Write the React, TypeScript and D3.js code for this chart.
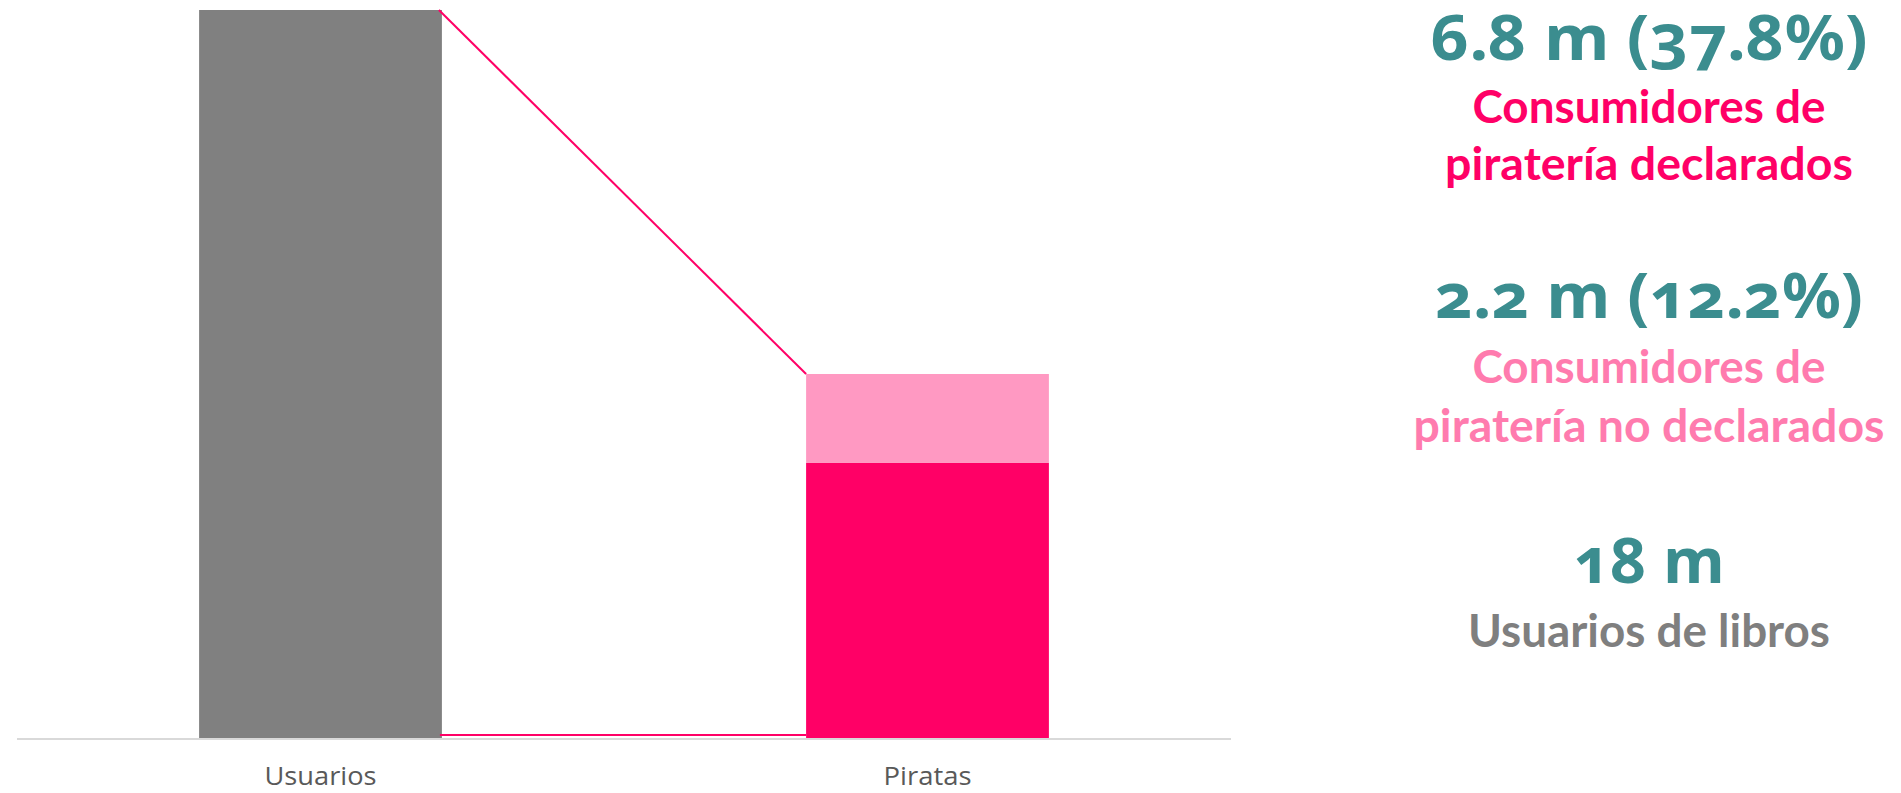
import React from "react";
import * as d3 from "d3";

const categories = ["Usuarios", "Piratas"];
const usuariosValues = [18, 0];
const declaradosValues = [0, 6.8];
const noDeclaradosValues = [0, 2.2];
const seriesKeys = ["usuarios", "declarados", "noDeclarados"];
const seriesColors = ["#808080", "#FF0066", "#FF99C2"];

const annotationValues = ["6.8 m (37.8%)", "2.2 m (12.2%)", "18 m"];
const annotationLabels = [
  ["Consumidores de", "piratería declarados"],
  ["Consumidores de", "piratería no declarados"],
  ["Usuarios de libros"],
];
const annotationLabelColors = ["#FF0066", "#FF7BAE", "#7F7F7F"];

const W = 1901;
const H = 793;

export default function App() {
  const rows = categories.map((c, i) => ({
    category: c,
    usuarios: usuariosValues[i],
    declarados: declaradosValues[i],
    noDeclarados: noDeclaradosValues[i],
  }));
  const stacked = d3.stack<any>().keys(seriesKeys)(rows);

  const x = d3
    .scaleBand<string>()
    .domain(categories)
    .range([17, 1231])
    .paddingInner(0.6)
    .paddingOuter(0.3);
  const y = d3.scaleLinear().domain([0, 18]).range([738, 10]);
  const bw = x.bandwidth();

  const totalUsers = usuariosValues[0];
  const totalPirates = declaradosValues[1] + noDeclaradosValues[1];
  const x1 = (x(categories[0]) as number) + bw;
  const x2 = x(categories[1]) as number;

  const teal = "#3B8D8F";
  const cx = 1649;
  const blocks = [
    { vy: 60, vw: 437, ly: [123, 180], lw: [353, 408] },
    { vy: 318, vw: 428, ly: [383, 442], lw: [353, 471] },
    { vy: 583, vw: 151, ly: [647], lw: [362] },
  ];
  const catLabelWidths = [112, 88];

  return (
    <svg
      width={W}
      height={H}
      style={{ position: "absolute", left: 0, top: 0, background: "#fff" }}
    >
      <line x1={17} x2={1231} y1={y(0) + 1} y2={y(0) + 1} stroke="#D9D9D9" strokeWidth={2} />
      {stacked.map((s, si) => (
        <g key={s.key} fill={seriesColors[si]}>
          {s.map((d, i) =>
            d[1] - d[0] > 0 ? (
              <rect
                key={i}
                x={x(categories[i])}
                width={bw}
                y={y(d[1])}
                height={y(d[0]) - y(d[1])}
              />
            ) : null
          )}
        </g>
      ))}
      <line x1={x1 - 3} y1={y(totalUsers)} x2={x2} y2={y(totalPirates)} stroke="#FF0066" strokeWidth={2} />
      <line x1={x1 - 2} y1={y(0) - 3} x2={x2} y2={y(0) - 3} stroke="#FF0066" strokeWidth={2} />
      {categories.map((c, i) => (
        <text
          key={c}
          x={(x(c) as number) + bw / 2}
          y={785}
          textAnchor="middle"
          fontFamily="'Open Sans', sans-serif"
          fontSize={25}
          fill="#595959"
          textLength={catLabelWidths[i]}
          lengthAdjust="spacingAndGlyphs"
        >
          {c}
        </text>
      ))}
      {blocks.map((b, bi) => (
        <g key={bi} fontWeight="bold" textAnchor="middle">
          <text
            x={cx}
            y={b.vy}
            fontSize={62}
            fill={teal}
            fontFamily="'Noto Sans', 'Open Sans', sans-serif"
            style={{ fontVariantNumeric: "oldstyle-nums", fontFeatureSettings: "'onum' 1" }}
            textLength={b.vw}
            lengthAdjust="spacingAndGlyphs"
          >
            {annotationValues[bi]}
          </text>
          {annotationLabels[bi].map((l, li) => (
            <text
              key={li}
              x={cx}
              y={b.ly[li]}
              fontSize={46}
              fontFamily="Lato, 'Open Sans', sans-serif"
              fill={annotationLabelColors[bi]}
              textLength={b.lw[li]}
              lengthAdjust="spacingAndGlyphs"
            >
              {l}
            </text>
          ))}
        </g>
      ))}
    </svg>
  );
}
